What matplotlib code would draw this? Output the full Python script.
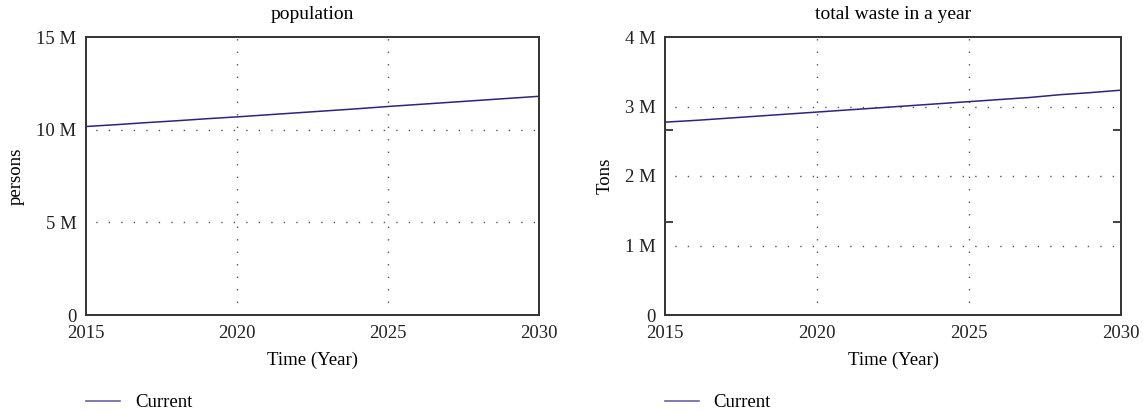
import numpy as np
import matplotlib
matplotlib.use("Agg")
import matplotlib.pyplot as plt
from matplotlib.ticker import FixedLocator, FuncFormatter

plt.rcParams['font.family'] = ['Liberation Serif', 'DejaVu Serif']

# data
years = [2015, 2016, 2017, 2018, 2019, 2020, 2021, 2022, 2023, 2024,
         2025, 2026, 2027, 2028, 2029, 2030]
population = [10.17, 10.27, 10.38, 10.48, 10.59, 10.69, 10.80, 10.91,
              11.02, 11.13, 11.25, 11.36, 11.47, 11.58, 11.69, 11.80]
waste = [2.775, 2.80, 2.83, 2.86, 2.89, 2.92, 2.95, 2.98,
         3.01, 3.04, 3.07, 3.10, 3.13, 3.17, 3.20, 3.235]

pop_ticks = [0, 5, 10, 15]
waste_ticks = [0, 1, 2, 3, 4]
x_ticks = [2015, 2020, 2025, 2030]

line_col = '#2a2580'
fs = 13.5


def mfmt(v, pos):
    return '0' if v == 0 else '%d M' % v


def setup(ax, title, ylabel, yticks, ymax):
    ax.set_xlim(2015, 2030)
    ax.set_ylim(0, ymax)
    ax.set_title(title, fontsize=14, pad=13)
    ax.set_xlabel('Time (Year)', fontsize=fs, labelpad=7)
    ax.set_ylabel(ylabel, fontsize=fs, labelpad=8)
    ax.xaxis.set_major_locator(FixedLocator(x_ticks))
    ax.yaxis.set_major_locator(FixedLocator(yticks))
    ax.yaxis.set_major_formatter(FuncFormatter(mfmt))
    # tick marks at thirds of each axis
    ax.xaxis.set_minor_locator(FixedLocator([2020, 2025]))
    ax.yaxis.set_minor_locator(FixedLocator([ymax / 3, 2 * ymax / 3]))
    ax.tick_params(which='major', length=0, labelsize=fs, pad=7, colors='#222222')
    ax.tick_params(which='minor', length=6, width=1.3, direction='in',
                   top=True, bottom=True, left=True, right=True, color='#333333')
    for s in ax.spines.values():
        s.set_linewidth(1.4)
        s.set_color('#333333')
    for x in x_ticks[1:-1]:
        ax.axvline(x, color='#555555', lw=1, ls=(0, (1, 8)), zorder=0)
    for y in yticks[1:-1]:
        ax.axhline(y, color='#555555', lw=1, ls=(2, (1, 8)), zorder=0)


fig = plt.figure(figsize=(11.47, 4.12), dpi=100)
ax1 = fig.add_axes([86 / 1147, 1 - 315 / 412, (539 - 86) / 1147, 278 / 412])
ax2 = fig.add_axes([665 / 1147, 1 - 315 / 412, (1121 - 665) / 1147, 278 / 412])

ax1.plot(years, population, color=line_col, lw=1.1, label='Current')
setup(ax1, 'population', 'persons', pop_ticks, 15)

ax2.plot(years, waste, color=line_col, lw=1.1, label='Current')
setup(ax2, 'total waste in a year', 'Tons', waste_ticks, 4)

for ax in (ax1, ax2):
    leg = ax.legend(loc='upper left', bbox_to_anchor=(0.0, -0.285), frameon=False,
                    fontsize=fs, handlelength=1.8, borderaxespad=0, borderpad=0,
                    handletextpad=0.8)
    for h in leg.get_lines():
        h.set_color('#6a64a8')
        h.set_linewidth(1.2)

fig.savefig('out.png', dpi=100)
